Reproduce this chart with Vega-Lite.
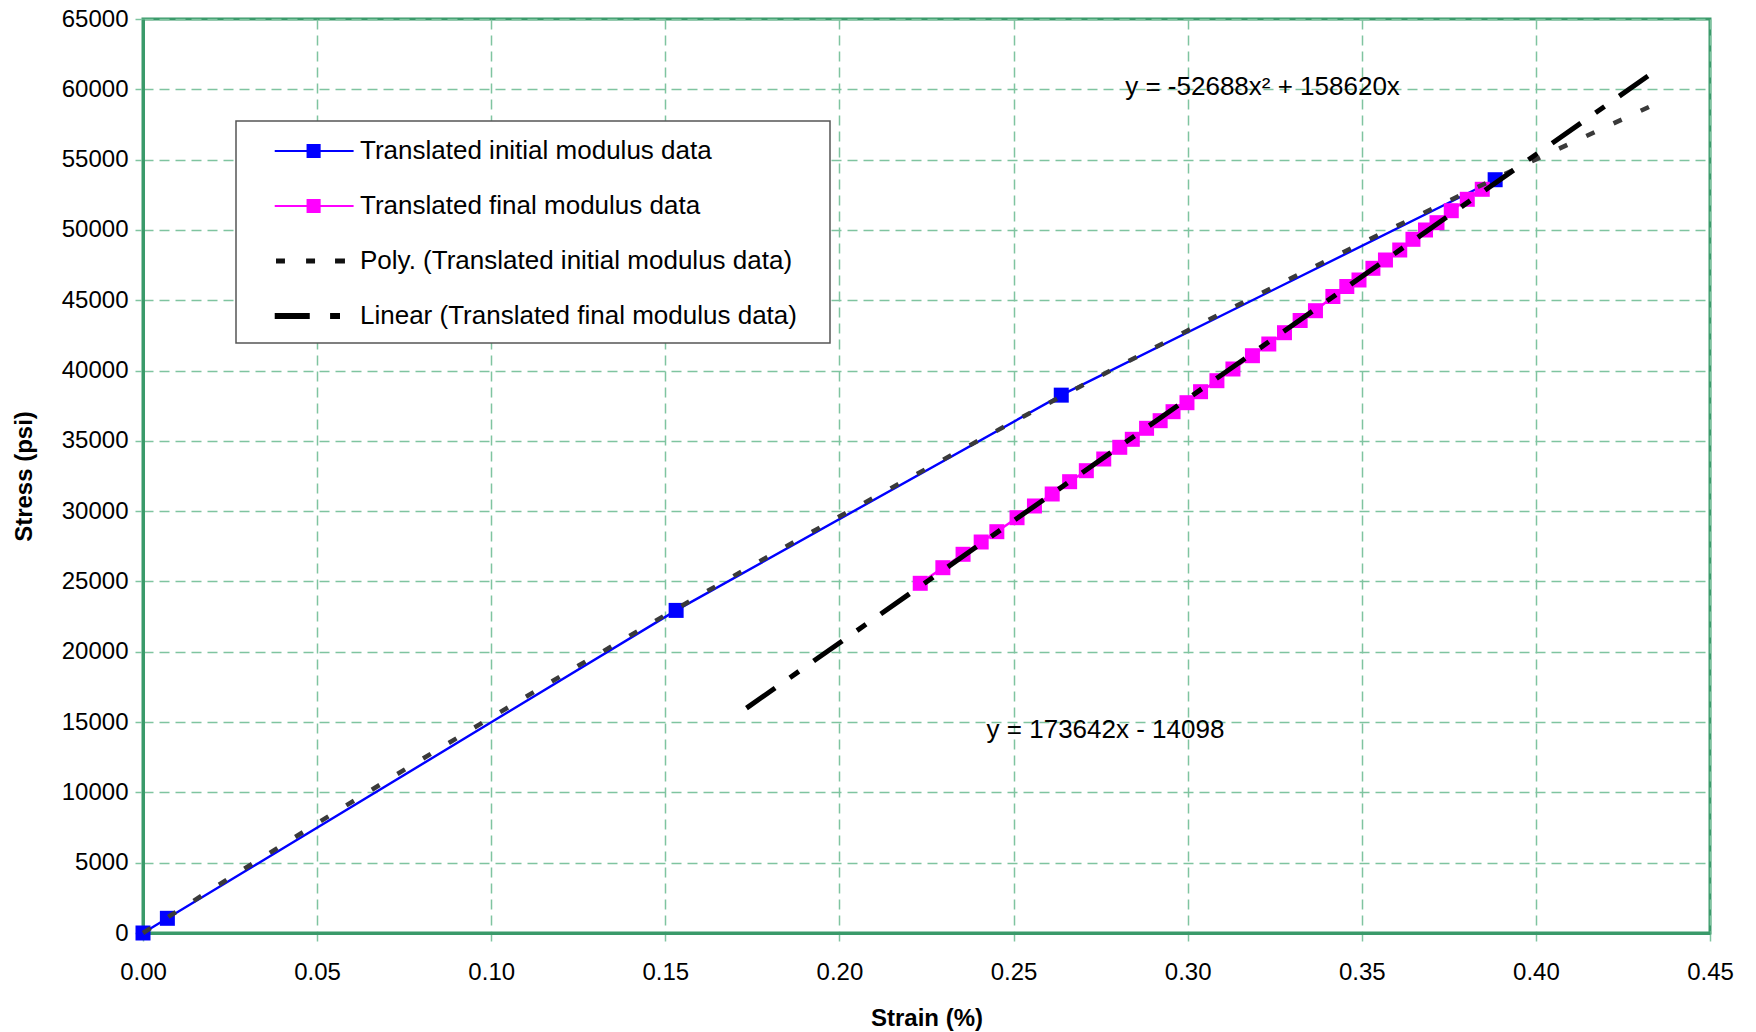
{
  "$schema": "https://vega.github.io/schema/vega-lite/v6.json",
  "width": 1567,
  "height": 914,
  "autosize": {"type": "none"},
  "padding": {"left": 143, "top": 19, "right": 46, "bottom": 99},
  "background": "white",
  "datasets": {
    "blue": [
      {"x": 0, "y": 0},
      {"x": 0.007, "y": 1045},
      {"x": 0.1531, "y": 22942},
      {"x": 0.2637, "y": 38250},
      {"x": 0.3883, "y": 53570}
    ],
    "pink": [
      {"x": 0.2232, "y": 24869}, {"x": 0.2297, "y": 25979}, {"x": 0.2355, "y": 26932},
      {"x": 0.2407, "y": 27806}, {"x": 0.2452, "y": 28539}, {"x": 0.2510, "y": 29534},
      {"x": 0.2560, "y": 30367}, {"x": 0.2611, "y": 31220}, {"x": 0.2661, "y": 32095},
      {"x": 0.2709, "y": 32877}, {"x": 0.2759, "y": 33709}, {"x": 0.2805, "y": 34541},
      {"x": 0.2841, "y": 35110}, {"x": 0.2882, "y": 35892}, {"x": 0.2921, "y": 36433},
      {"x": 0.2958, "y": 37073}, {"x": 0.2998, "y": 37713}, {"x": 0.3037, "y": 38495},
      {"x": 0.3084, "y": 39277}, {"x": 0.3130, "y": 40109}, {"x": 0.3186, "y": 41055},
      {"x": 0.3233, "y": 41887}, {"x": 0.3278, "y": 42691}, {"x": 0.3323, "y": 43559},
      {"x": 0.3367, "y": 44255}, {"x": 0.3417, "y": 45265}, {"x": 0.3457, "y": 45977},
      {"x": 0.3492, "y": 46439}, {"x": 0.3532, "y": 47271}, {"x": 0.3568, "y": 47861},
      {"x": 0.3609, "y": 48572}, {"x": 0.3647, "y": 49333}, {"x": 0.3683, "y": 49995},
      {"x": 0.3716, "y": 50514}, {"x": 0.3757, "y": 51367}, {"x": 0.3803, "y": 52178},
      {"x": 0.3846, "y": 52889}
    ],
    "poly": [
      {"x": 0, "y": 0}, {"x": 0.025, "y": 3933}, {"x": 0.05, "y": 7799}, {"x": 0.075, "y": 11600},
      {"x": 0.1, "y": 15335}, {"x": 0.125, "y": 19004}, {"x": 0.15, "y": 22608}, {"x": 0.175, "y": 26145},
      {"x": 0.2, "y": 29617}, {"x": 0.225, "y": 33022}, {"x": 0.25, "y": 36362}, {"x": 0.275, "y": 39636},
      {"x": 0.3, "y": 42844}, {"x": 0.325, "y": 45986}, {"x": 0.35, "y": 49063}, {"x": 0.375, "y": 52073},
      {"x": 0.4, "y": 55018}, {"x": 0.434, "y": 58917}
    ],
    "linear": [
      {"x": 0.1733, "y": 15994},
      {"x": 0.435, "y": 61436}
    ],
    "notes": [
      {"x": 0.3215, "y": 60160, "label": "y = -52688x² + 158620x"},
      {"x": 0.2764, "y": 14440, "label": "y = 173642x - 14098"}
    ],
    "legend": [
      {"series": "Translated initial modulus data", "x": null, "y": null},
      {"series": "Translated final modulus data", "x": null, "y": null},
      {"series": "Poly. (Translated initial modulus data)", "x": null, "y": null},
      {"series": "Linear (Translated final modulus data)", "x": null, "y": null}
    ]
  },
  "encoding": {
    "x": {
      "field": "x", "type": "quantitative",
      "scale": {"domain": [0, 0.45], "nice": false, "zero": false},
      "axis": {
        "title": "Strain (%)",
        "values": [0, 0.05, 0.1, 0.15, 0.2, 0.25, 0.3, 0.35, 0.4, 0.45],
        "format": ".2f",
        "labelFlush": false,
        "labelPadding": 19,
        "titlePadding": 22
      }
    },
    "y": {
      "field": "y", "type": "quantitative",
      "scale": {"domain": [0, 65000], "nice": false},
      "axis": {
        "title": "Stress (psi)",
        "values": [0, 5000, 10000, 15000, 20000, 25000, 30000, 35000, 40000, 45000, 50000, 55000, 60000, 65000],
        "format": "d",
        "labelFlush": false,
        "labelPadding": 7,
        "titlePadding": 25
      }
    }
  },
  "layer": [
    {
      "data": {"name": "blue"},
      "mark": {"type": "line", "color": "#0000FF", "strokeWidth": 2.4}
    },
    {
      "data": {"name": "pink"},
      "mark": {"type": "line", "color": "#FF00FF", "strokeWidth": 2.4}
    },
    {
      "data": {"name": "blue"},
      "mark": {"type": "point", "shape": "square", "filled": true, "color": "#0000FF", "size": 225, "opacity": 1}
    },
    {
      "data": {"name": "pink"},
      "mark": {"type": "point", "shape": "square", "filled": true, "color": "#FF00FF", "size": 225, "opacity": 1}
    },
    {
      "data": {"name": "poly"},
      "mark": {"type": "line", "color": "#3a3a3a", "strokeWidth": 4.5, "strokeDash": [9, 21]}
    },
    {
      "data": {"name": "linear"},
      "mark": {"type": "line", "color": "#000000", "strokeWidth": 5, "strokeDash": [35, 18, 11, 18]}
    },
    {
      "data": {"name": "notes"},
      "mark": {"type": "text", "font": "Liberation Sans", "fontSize": 26, "color": "black", "align": "center", "baseline": "middle"},
      "encoding": {"text": {"field": "label"}}
    },
    {
      "data": {"name": "legend"},
      "mark": {"type": "point", "filled": true, "opacity": 1},
      "encoding": {
        "color": {
          "field": "series", "type": "nominal",
          "scale": {
            "domain": ["Translated initial modulus data", "Translated final modulus data", "Poly. (Translated initial modulus data)", "Linear (Translated final modulus data)"],
            "range": ["#0000FF", "#FF00FF", "#111111", "#000000"]
          },
          "legend": {"title": null, "labelExpr": "datum.label + '\u2800'"}
        },
        "shape": {
          "field": "series", "type": "nominal",
          "scale": {
            "domain": ["Translated initial modulus data", "Translated final modulus data", "Poly. (Translated initial modulus data)", "Linear (Translated final modulus data)"],
            "range": [
              "M0.545,-0.07H5.475V0.07H0.545Z M2.535,-0.44H3.415V0.44H2.535Z",
              "M0.545,-0.07H5.475V0.07H0.545Z M2.535,-0.44H3.415V0.44H2.535Z",
              "M0.625,-0.16H1.185V0.16H0.625Z M2.505,-0.16H3.065V0.16H2.505Z M4.315,-0.16H4.935V0.16H4.315Z",
              "M0.545,-0.19H2.735V0.19H0.545Z M4.005,-0.19H4.625V0.19H4.005Z"
            ]
          },
          "legend": {"title": null, "labelExpr": "datum.label + '\u2800'"}
        }
      }
    }
  ],
  "config": {
    "view": {"stroke": "#3a9a6a", "strokeWidth": 3},
    "axis": {
      "labelFont": "Liberation Sans",
      "labelFontSize": 24,
      "labelColor": "black",
      "titleFont": "Liberation Sans",
      "titleFontSize": 24,
      "titleFontWeight": "bold",
      "titleColor": "black",
      "gridColor": "#7fc4a0",
      "gridDash": [10, 6],
      "gridWidth": 1.5,
      "domainColor": "#3a9a6a",
      "domainWidth": 3,
      "tickColor": "#7fc4a0",
      "tickSize": 8,
      "tickWidth": 1.5
    },
    "legend": {
      "orient": "none",
      "legendX": 93,
      "legendY": 102,
      "labelFont": "Liberation Sans",
      "labelFontSize": 26,
      "labelColor": "black",
      "labelLimit": 0,
      "labelOffset": 78,
      "symbolSize": 1024,
      "symbolStrokeWidth": 0,
      "symbolOpacity": 1,
      "rowPadding": 26,
      "padding": 14,
      "fillColor": "white",
      "strokeColor": "#555555",
      "strokeWidth": 1.5
    }
  }
}
